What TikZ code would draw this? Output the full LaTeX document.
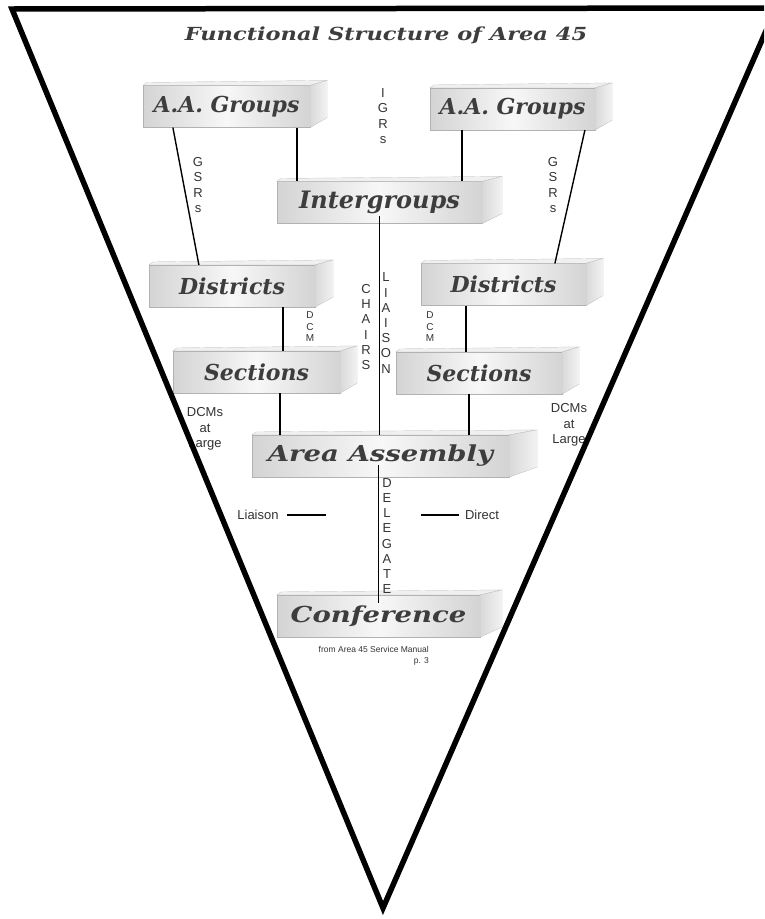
\documentclass[tikz,border=0pt]{standalone}
\usepackage{fontspec}
\setsansfont{Liberation Sans}
\newfontfamily\fancyfont{DejaVu Serif}
\newfontfamily\widefancy[FakeStretch=1.25]{DejaVu Serif}
\usetikzlibrary{calc}

\tikzset{
  front/.style={shade, left color=gray!34, right color=gray!34, middle color=gray!6,
    draw=gray!60, very thin, minimum height=42pt, inner sep=0pt, text=black!76,
    font=\fancyfont\bfseries\itshape\fontsize{22}{22}\selectfont},
  wide/.style={font=\widefancy\bfseries\itshape\fontsize{22}{22}\selectfont},
  side/.style={draw=gray!60, very thin},
  link/.style={line width=1.4pt, black},
  vtext/.style={font=\sffamily\fontsize{13}{15.2}\selectfont, align=center, inner sep=0pt, text=black!80},
  vsmall/.style={font=\sffamily\fontsize{10}{11.5}\selectfont, align=center, inner sep=0pt, text=black!80},
}

\begin{document}
\begin{tikzpicture}[x=1pt,y=-1pt]
        % Frame
        \useasboundingbox (0,0) rectangle (764,919);
        \clip (0,0) rectangle (764,919);
        \fill[white] (0,0) rectangle (764,919);

        % Title
        \node[text=black!76, font=\widefancy\bfseries\itshape\fontsize{18}{18}\selectfont] (title) at (386,35) {Functional Structure of Area 45};

        % Boxes
        \node[front, minimum width=167pt] (grpL) at (226.5,106.5) {A.A. Groups};
        \node[front, minimum width=165pt] (grpR) at (512.5,109) {A.A. Groups};
        \node[front, minimum width=205pt, font=\fancyfont\bfseries\itshape\fontsize{24}{24}\selectfont] (inter) at (379.5,202.5) {Intergroups};
        \node[front, minimum width=166pt] (distL) at (232,286) {Districts};
        \node[front, minimum width=165pt] (distR) at (503.5,284.5) {Districts};
        \node[front, minimum width=167pt] (secL) at (256.5,372) {Sections};
        \node[front, minimum width=166pt] (secR) at (479,373) {Sections};
        \node[front, wide, minimum width=257pt] (assembly) at (380.5,456) {Area Assembly};
        \node[front, wide, minimum width=203pt] (conf) at (378.5,616) {Conference};

        % Top and side faces
        \foreach \n/\d in {grpL/17,grpR/17,inter/20,distL/18,distR/17,secL/17,secR/17,assembly/28,conf/22}{
          \filldraw[side, fill=gray!12] (\n.north west) -- (\n.north east) -- ++(\d,-5) -- ($(\n.north west)+(4,-3)$) -- cycle;
          \shadedraw[side, left color=gray!30, right color=gray!10] (\n.north east) -- ++(\d,-5) -- ($(\n.south east)+(\d,-10)$) -- (\n.south east) -- cycle;
        }

        % Connectors
        \draw[link] ([xshift=30pt]grpL.south west) -- ([xshift=50pt]distL.north west);
        \draw[link] ([xshift=154pt]grpL.south west) -- ([xshift=20pt]inter.north west);
        \draw[link] ([xshift=32pt]grpR.south west) -- ([xshift=185pt]inter.north west);
        \draw[link] ([xshift=155pt]grpR.south west) -- ([xshift=134pt]distR.north west);
        \draw[link] ([yshift=8pt]inter.south) -- (inter.south |- assembly.north);
        \draw[link] ([xshift=134pt]distL.south west) -- ([xshift=110pt]secL.north west);
        \draw[link] ([xshift=45pt]distR.south west) -- ([xshift=70pt]secR.north west);
        \draw[link] ([xshift=107pt]secL.south west) -- ([xshift=28pt]assembly.north west);
        \draw[link] ([xshift=73pt]secR.south west) -- ([xshift=217pt]assembly.north west);
        \draw[link] ([xshift=-2pt,yshift=12pt]assembly.south) -- ([xshift=-2pt,yshift=-8pt]assembly.south |- conf.north);

        % Letter stacks
        \node[vtext] (igrs) at (383,116) {I\\G\\R\\s};
        \node[vtext] (gsrL) at (198,185) {G\\S\\R\\s};
        \node[vtext] (gsrR) at (553,185) {G\\S\\R\\s};
        \node[vtext] (chairs) at (366,327) {C\\H\\A\\I\\R\\S};
        \node[vtext] (liaisonv) at (386,323) {L\\I\\A\\I\\S\\O\\N};
        \node[vtext] (delegate) at (387,536) {D\\E\\L\\E\\G\\A\\T\\E};
        \node[vsmall] (dcmL) at (310,327) {D\\C\\M};
        \node[vsmall] (dcmR) at (430,327) {D\\C\\M};
        \node[vtext] (largeL) at (205,429) {DCMs\\at\\Large};
        \node[vtext] (largeR) at (569,425) {DCMs\\at\\Large};

        % Legend
        \node[vtext] (liaison) at (258,515) {Liaison};
        \draw[link] ([xshift=8pt]liaison.east) -- ++(39,0);
        \node[vtext] (direct) at (482,515) {Direct};
        \draw[link] ([xshift=-6pt]direct.west) -- ++(-38,0);

        % Source
        \node[font=\sffamily\fontsize{8.5}{11}\selectfont, align=right, anchor=north east, inner sep=0pt, text=black!80] (source) at (429,646) {from Area 45 Service Manual\\p. 3};

        % Funnel
        \draw[line width=5.5pt, line join=miter] (12,9) -- (776,8) -- (383,908) -- cycle;
      \end{tikzpicture}
\end{document}
